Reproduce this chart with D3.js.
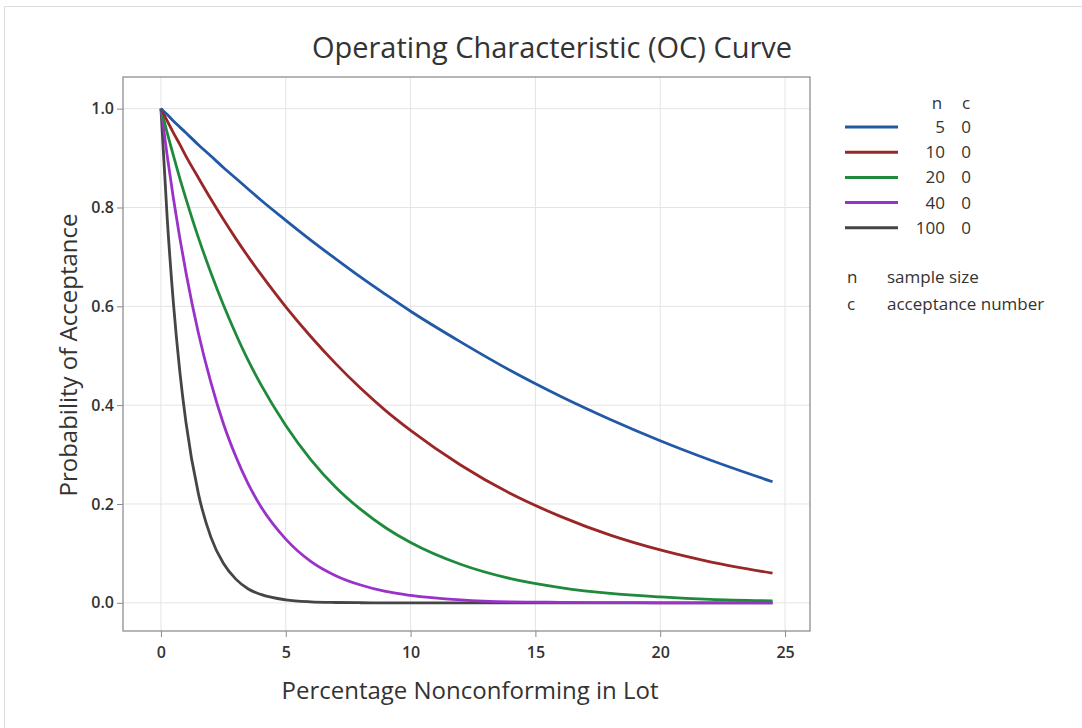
<!DOCTYPE html>
<html><head><meta charset="utf-8">
<script src="https://cdn.jsdelivr.net/npm/d3@7"></script>
<style>
html,body{margin:0;padding:0;background:#fff;}
text{font-family:"Open Sans","Noto Sans",sans-serif;fill:#333;}
</style></head>
<body><svg id="c" width="1082" height="728"></svg>
<script>
// Percentage nonconforming (x) and probability of acceptance
const pct = [0, 0.25, 0.5, 0.75, 1, 1.5, 2, 2.5, 3, 3.5, 4, 5, 6, 7, 8, 9, 10, 12, 14, 16, 18, 20, 22, 24.5];
const sampleSizes = [5, 10, 20, 40, 100];
const acceptNums = [0, 0, 0, 0, 0];
const pa_n5   = [1, 0.988, 0.975, 0.963, 0.951, 0.927, 0.904, 0.881, 0.859, 0.837, 0.815, 0.774, 0.734, 0.696, 0.659, 0.624, 0.590, 0.528, 0.470, 0.418, 0.371, 0.328, 0.289, 0.245];
const pa_n10  = [1, 0.975, 0.951, 0.928, 0.904, 0.860, 0.817, 0.776, 0.737, 0.700, 0.665, 0.599, 0.539, 0.484, 0.434, 0.389, 0.349, 0.279, 0.221, 0.175, 0.137, 0.107, 0.083, 0.060];
const pa_n20  = [1, 0.951, 0.905, 0.860, 0.818, 0.739, 0.668, 0.603, 0.544, 0.490, 0.442, 0.359, 0.290, 0.234, 0.189, 0.152, 0.122, 0.078, 0.049, 0.031, 0.019, 0.012, 0.007, 0.004];
const pa_n40  = [1, 0.905, 0.818, 0.740, 0.669, 0.546, 0.446, 0.363, 0.296, 0.240, 0.195, 0.129, 0.084, 0.055, 0.036, 0.023, 0.015, 0.006, 0.002, 0.001, 0.0004, 0.0001, 0, 0];
const pa_n100 = [1, 0.779, 0.606, 0.471, 0.366, 0.221, 0.133, 0.080, 0.048, 0.028, 0.017, 0.006, 0.002, 0.0007, 0.0002, 0, 0, 0, 0, 0, 0, 0, 0, 0];
const seriesValues = [pa_n5, pa_n10, pa_n20, pa_n40, pa_n100];
const colors = ["#2159a6", "#9a2727", "#1f8a3b", "#9a32c9", "#454545"];
const xTicks = [0, 5, 10, 15, 20, 25];
const yTicks = [0, 0.2, 0.4, 0.6, 0.8, 1.0];

const svg = d3.select("#c");
// faint image border
svg.append("line").attr("x1",4).attr("x2",1082).attr("y1",6.5).attr("y2",6.5).attr("stroke","#dcdcdc");
svg.append("line").attr("x1",4.5).attr("x2",4.5).attr("y1",6).attr("y2",728).attr("stroke","#dcdcdc");

const L=123, R=810, T=77, B=631;
const x = d3.scaleLinear().domain([-1.52, 26.0]).range([L, R]);
const y = d3.scaleLinear().domain([-0.057, 1.064]).range([B, T]);

// grid
svg.append("g").selectAll("line").data(xTicks).join("line")
  .attr("x1",d=>x(d)).attr("x2",d=>x(d)).attr("y1",T).attr("y2",B)
  .attr("stroke","#e4e4e4").attr("stroke-width",1);
svg.append("g").selectAll("line").data(yTicks).join("line")
  .attr("x1",L).attr("x2",R).attr("y1",d=>y(d)).attr("y2",d=>y(d))
  .attr("stroke","#e4e4e4").attr("stroke-width",1);

// axes
const xAxis = d3.axisBottom(x).tickValues(xTicks).tickFormat(d3.format("d")).tickSizeOuter(0).tickSize(6).tickPadding(10);
const yAxis = d3.axisLeft(y).tickValues(yTicks).tickFormat(d3.format(".1f")).tickSizeOuter(0).tickSize(6).tickPadding(3);
const gx = svg.append("g").attr("transform",`translate(0,${B})`).call(xAxis);
const gy = svg.append("g").attr("transform",`translate(${L},0)`).call(yAxis);
[gx,gy].forEach(g=>{
  g.select(".domain").remove();
  g.selectAll(".tick line").attr("stroke","#8a8a8a");
  g.selectAll(".tick text").style("font-size","16px").style("font-weight","600").attr("fill","#3a3a3a");
});

// frame
svg.append("rect").attr("x",L).attr("y",T).attr("width",R-L).attr("height",B-T)
  .attr("fill","none").attr("stroke","#8f8f8f").attr("stroke-width",1.3);

// curves
const line = d3.line().x((d,i)=>x(pct[i])).y(d=>y(d)).curve(d3.curveMonotoneX);
const order = [4,3,2,1,0];
svg.append("g").selectAll("path").data(order).join("path")
  .attr("d",k=>line(seriesValues[k]))
  .attr("fill","none").attr("stroke",k=>colors[k]).attr("stroke-width",2.8)
  .attr("stroke-linejoin","round");

// title & axis labels
svg.append("text").attr("x",552).attr("y",58).attr("text-anchor","middle")
  .style("font-size","29px").text("Operating Characteristic (OC) Curve");
svg.append("text").attr("x",470).attr("y",699).attr("text-anchor","middle")
  .style("font-size","24px").text("Percentage Nonconforming in Lot");
svg.append("text").attr("transform","translate(77,355) rotate(-90)").attr("text-anchor","middle")
  .style("font-size","24px").text("Probability of Acceptance");

// legend
const fs = "17px";
const lg = svg.append("g");
lg.append("text").attr("x",937).attr("y",109).attr("text-anchor","middle").style("font-size",fs).text("n");
lg.append("text").attr("x",966).attr("y",109).attr("text-anchor","middle").style("font-size",fs).text("c");
const rows = lg.selectAll("g.row").data(sampleSizes).join("g").attr("class","row")
  .attr("transform",(d,i)=>`translate(0,${127+i*25.2})`);
rows.append("line").attr("x1",845).attr("x2",898).attr("y1",0).attr("y2",0)
  .attr("stroke",(d,i)=>colors[i]).attr("stroke-width",3);
rows.append("text").attr("x",945).attr("y",6).attr("text-anchor","end").style("font-size",fs).text(d=>d);
rows.append("text").attr("x",966).attr("y",6).attr("text-anchor","middle").style("font-size",fs).text((d,i)=>acceptNums[i]);
lg.append("text").attr("x",847).attr("y",283).style("font-size",fs).text("n");
lg.append("text").attr("x",887).attr("y",283).style("font-size",fs).text("sample size");
lg.append("text").attr("x",847).attr("y",310).style("font-size",fs).text("c");
lg.append("text").attr("x",887).attr("y",310).style("font-size",fs).text("acceptance number");
</script></body></html>
